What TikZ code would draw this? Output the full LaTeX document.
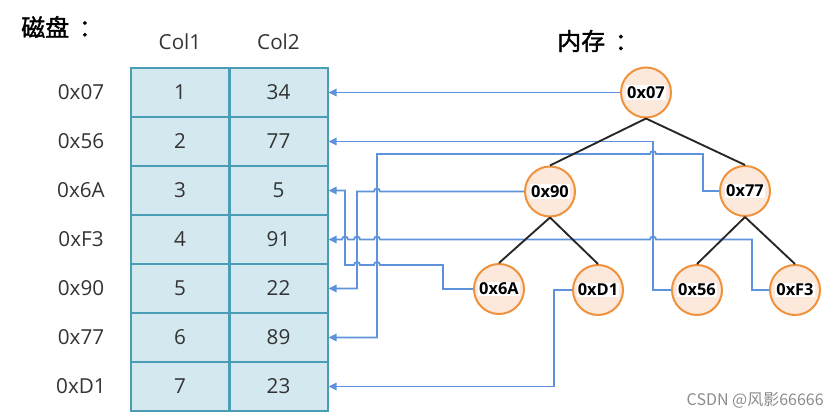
\documentclass[tikz,border=0pt]{standalone}
\usepackage{fontspec}
\setmainfont{Open Sans}
\newfontfamily\cjk{Noto Sans CJK SC}
\newfontfamily\cjkt[AutoFakeBold=1.5]{Noto Sans CJK SC}
\usetikzlibrary{arrows.meta}
\definecolor{cellfill}{HTML}{D3E9EF}
\definecolor{cellborder}{HTML}{4A9DB5}
\definecolor{linkblue}{HTML}{5E92DD}
\definecolor{orangeb}{HTML}{F0913C}
\definecolor{orangef}{HTML}{FCE9DC}
\definecolor{txt}{HTML}{333333}
\newcommand\wbox[1]{{\setlength{\fboxsep}{0.8pt}\colorbox{white}{#1}}}
\begin{document}
\begin{tikzpicture}[x=0.75pt,y=-0.75pt,
  cell/.style={draw=cellborder, fill=cellfill, line width=1.5pt, minimum width=73.5pt, minimum height=36.75pt, inner sep=0pt, text=txt, font=\fontsize{15.5}{18}\selectfont},
  rowlab/.style={text=txt, inner sep=0pt, font=\fontsize{15.5}{18}\selectfont},
  tnode/.style={circle, draw=orangeb, fill=orangef, line width=1.5pt, minimum size=37.5pt, inner sep=0pt, font=\bfseries\fontsize{12.3}{14}\selectfont},
  link/.style={draw=linkblue, line width=1.35pt, -{Triangle[length=6pt,width=5.5pt]}},
  tedge/.style={draw=black!85, line width=1.4pt},
  ttl/.style={anchor=west, inner sep=0pt, font=\cjkt\bfseries\fontsize{18}{18}\selectfont}]
\path[use as bounding box] (0,0) rectangle (840,418);

% titles
\node[ttl] (t1) at (21,27) {磁盘\kern0.4em：};
\node[ttl] (t2) at (557,41) {内存\kern0.4em：};

% headers
\node[rowlab] (h1) at (180,42) {Col1};
\node[rowlab] (h2) at (278.5,42) {Col2};

% table
\foreach \i/\lab/\a/\b in {1/0x07/1/34, 2/0x56/2/77, 3/0x6A/3/5, 4/0xF3/4/91, 5/0x90/5/22, 6/0x77/6/89, 7/0xD1/7/23}{
  \node[rowlab] (r\i) at (81,{68+49*\i-24.5}) {\lab};
  \node[cell] (a\i) at (180,{68+49*\i-24.5}) {\a};
  \node[cell] (b\i) at (278.5,{68+49*\i-24.5}) {\b};
}

% tree nodes
\node[tnode] (n07) at (646,92.5) {\wbox{0x07}};
\node[tnode] (n90) at (550,191.5) {\wbox{0x90}};
\node[tnode] (n77) at (745,191) {\wbox{0x77}};
\node[tnode] (n6A) at (499,289) {\wbox{0x6A}};
\node[tnode] (nD1) at (598,290) {\wbox{0xD1}};
\node[tnode] (n56) at (697,290) {\wbox{0x56}};
\node[tnode] (nF3) at (795,290) {\wbox{0xF3}};

% links
\draw[link] (n07.west) -- (n07.west -| b1.east);
\draw[link] (n56.west) -| (653,141.5) -- (b2.east);
\draw[link] (n6A.west) -| (443,265) -- (380,265) arc[start angle=0,end angle=180,radius=2.25pt]
   -- (360,265) arc[start angle=0,end angle=180,radius=2.25pt] -- (345,265) |- (b3.east);
\draw[link] (nF3.west) -| (752,239.5) -- (656,239.5) arc[start angle=0,end angle=180,radius=2.25pt]
   -- (380,239.5) arc[start angle=0,end angle=180,radius=2.25pt]
   -- (360,239.5) arc[start angle=0,end angle=180,radius=2.25pt]
   -- (348,239.5) arc[start angle=0,end angle=180,radius=2.25pt] -- (b4.east);
\draw[link] (n90.west) -- (380,191.5) arc[start angle=0,end angle=180,radius=2.25pt] -- (357,191.5) |- (b5.east);
\draw[link] (n77.west) -| (703,154) -- (656,154) arc[start angle=0,end angle=180,radius=2.25pt] -- (377,154) |- (b6.east);
\draw[link] (nD1.west) -- ++(-18,0) |- (b7.east);

% tree edges
\draw[tedge] (n07.south) -- (n90.north);
\draw[tedge] (n07.south) -- (n77.north);
\draw[tedge] (n90.south) -- (n6A.north);
\draw[tedge] (n90.south) -- (nD1.north);
\draw[tedge] (n77.south) -- (n56.north);
\draw[tedge] (n77.south) -- (nF3.north);

% watermark
\node[anchor=east, inner sep=0pt, text=black!45, font=\cjk\fontsize{12}{12}\selectfont] (wm) at (824,400) {CSDN @风影66666};
\end{tikzpicture}
\end{document}
